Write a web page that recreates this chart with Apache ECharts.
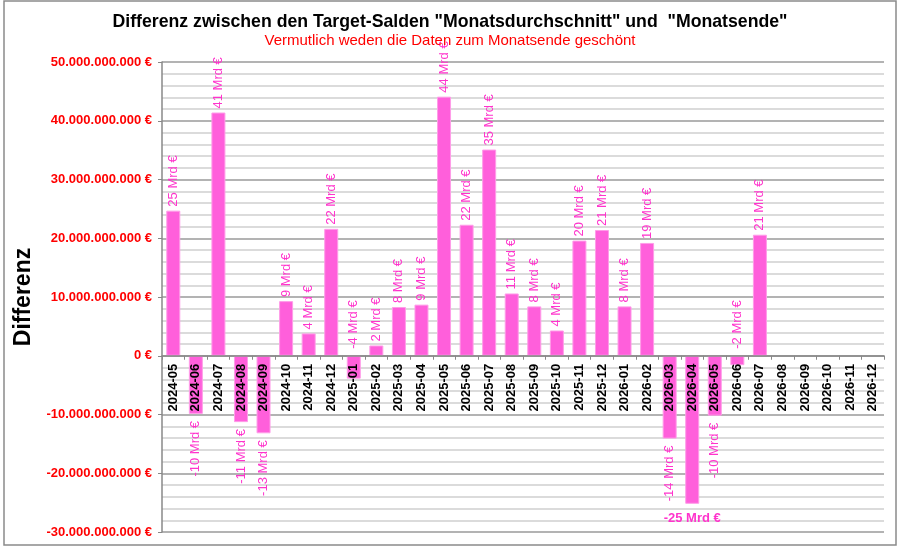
<!DOCTYPE html>
<html>
<head>
<meta charset="utf-8">
<script src="https://cdn.jsdelivr.net/npm/echarts@6/dist/echarts.min.js"></script>
<style>
  html, body { margin: 0; padding: 0; background: #fff; }
  #chart { width: 900px; height: 546px; }
</style>
</head>
<body>
<div id="chart"></div>
<script>
// Monate (x-Achse)
const months = [
  "2024-05", "2024-06", "2024-07", "2024-08", "2024-09", "2024-10", "2024-11", "2024-12",
  "2025-01", "2025-02", "2025-03", "2025-04", "2025-05", "2025-06", "2025-07", "2025-08",
  "2025-09", "2025-10", "2025-11", "2025-12", "2026-01", "2026-02", "2026-03", "2026-04",
  "2026-05", "2026-06", "2026-07", "2026-08", "2026-09", "2026-10", "2026-11", "2026-12",
];
// Differenz in Mrd €
const diffMrd = [
  24.7, -9.9, 41.4, -11.3, -13.2, 9.3, 3.8, 21.6,
  -3.9, 1.75, 8.3, 8.7, 44.1, 22.3, 35.1, 10.6,
  8.4, 4.3, 19.6, 21.4, 8.4, 19.2, -14.1, -25.2,
  -10.2, -1.6, 20.6, null, null, null, null, null,
];
// y-Achse in Mrd €
const yMin = -30;
const yMax = 50;
const yStep = 10;

const FONT = "Liberation Sans, Arial, sans-serif";
const LABEL_COLOR = "#FF33CC";

const GRID_TOP = 62;
const GRID_BOTTOM = 14;
const PLOT_H = 546 - GRID_TOP - GRID_BOTTOM;
// Abstand der Nulllinie vom unteren Rand (Achse liegt auf 0)
const ZERO_OFFSET = PLOT_H * (0 - yMin) / (yMax - yMin);

// 50 -> "50.000.000.000 €"
function euroLabel(v) {
  const n = Math.round(v * 1e9);
  const s = Math.abs(n).toString().replace(/\B(?=(\d{3})+(?!\d))/g, ".");
  return (n < 0 ? "-" : "") + s + " €";
}

// Beschriftung je Balken wie im Original
function barItem(v) {
  if (v === null) return null;
  let label;
  if (v <= -20) {
    label = { position: "bottom", rotate: 0, align: "center", verticalAlign: "top", distance: 8, fontWeight: "bold", fontSize: 13 };
  } else if (v < -5) {
    label = { position: "bottom", rotate: 90, align: "right", verticalAlign: "middle", distance: 7 };
  } else if (v < 0) {
    label = { position: "top", rotate: 90, align: "left", verticalAlign: "middle", distance: 7 };
  } else {
    label = { position: "top", rotate: 90, align: "left", verticalAlign: "middle", distance: 4 };
  }
  return { value: v, label: label };
}

const chart = echarts.init(document.getElementById("chart"));
const option = {
  backgroundColor: "#fff",
  animation: false,
  title: {
    text: 'Differenz zwischen den Target-Salden "Monatsdurchschnitt" und  "Monatsende"',
    subtext: "Vermutlich weden die Daten zum Monatsende geschönt",
    left: "center",
    top: 8,
    itemGap: 2,
    textStyle: { fontFamily: FONT, fontSize: 17.7, fontWeight: "bold", color: "#000" },
    subtextStyle: { fontFamily: FONT, fontSize: 15, color: "#FF0000" },
  },
  graphic: [
    {
      type: "rect",
      shape: { x: 4, y: 1, width: 892, height: 544 },
      style: { fill: "none", stroke: "#8a8a8a", lineWidth: 1.5 },
      silent: true,
    },
  ],
  grid: { left: 162, right: 16, top: GRID_TOP, bottom: GRID_BOTTOM, containLabel: false, outerBoundsMode: "none" },
  xAxis: {
    type: "category",
    data: months,
    position: "bottom",
    offset: -ZERO_OFFSET,
    z: 5,
    axisLine: { onZero: false, lineStyle: { color: "#888", width: 1.5 } },
    axisTick: { show: true, length: 4, lineStyle: { color: "#888" } },
    axisLabel: {
      interval: 0,
      rotate: 90,
      margin: 8,
      color: "#000",
      fontFamily: FONT,
      fontWeight: "bold",
      fontSize: 13,
    },
  },
  yAxis: {
    type: "value",
    min: yMin,
    max: yMax,
    interval: yStep,
    name: "Differenz",
    nameLocation: "middle",
    nameRotate: 90,
    nameGap: 111,
    nameTextStyle: { fontFamily: FONT, fontSize: 23, fontWeight: "bold", color: "#000" },
    axisLine: { show: true, lineStyle: { color: "#888", width: 1.5 } },
    axisTick: { show: true, length: 4, lineStyle: { color: "#888" } },
    axisLabel: {
      formatter: euroLabel,
      margin: 10,
      color: "#FF0000",
      fontFamily: FONT,
      fontWeight: "bold",
      fontSize: 13,
    },
    splitLine: { lineStyle: { color: "#9a9a9a", width: 1.5 } },
    minorTick: { show: false, splitNumber: 5 },
    minorSplitLine: { show: true, lineStyle: { color: "#cfcfcf", width: 1.5 } },
  },
  series: [
    {
      type: "bar",
      barWidth: 14,
      data: diffMrd.map(barItem),
      itemStyle: { color: "#FF5FDB", borderColor: "#FF9CE8", borderWidth: 1 },
      label: {
        show: true,
        color: LABEL_COLOR,
        fontFamily: FONT,
        fontSize: 13,
        formatter: (p) => Math.round(p.value) + " Mrd €",
      },
    },
  ],
};
chart.setOption(option);
</script>
</body>
</html>
